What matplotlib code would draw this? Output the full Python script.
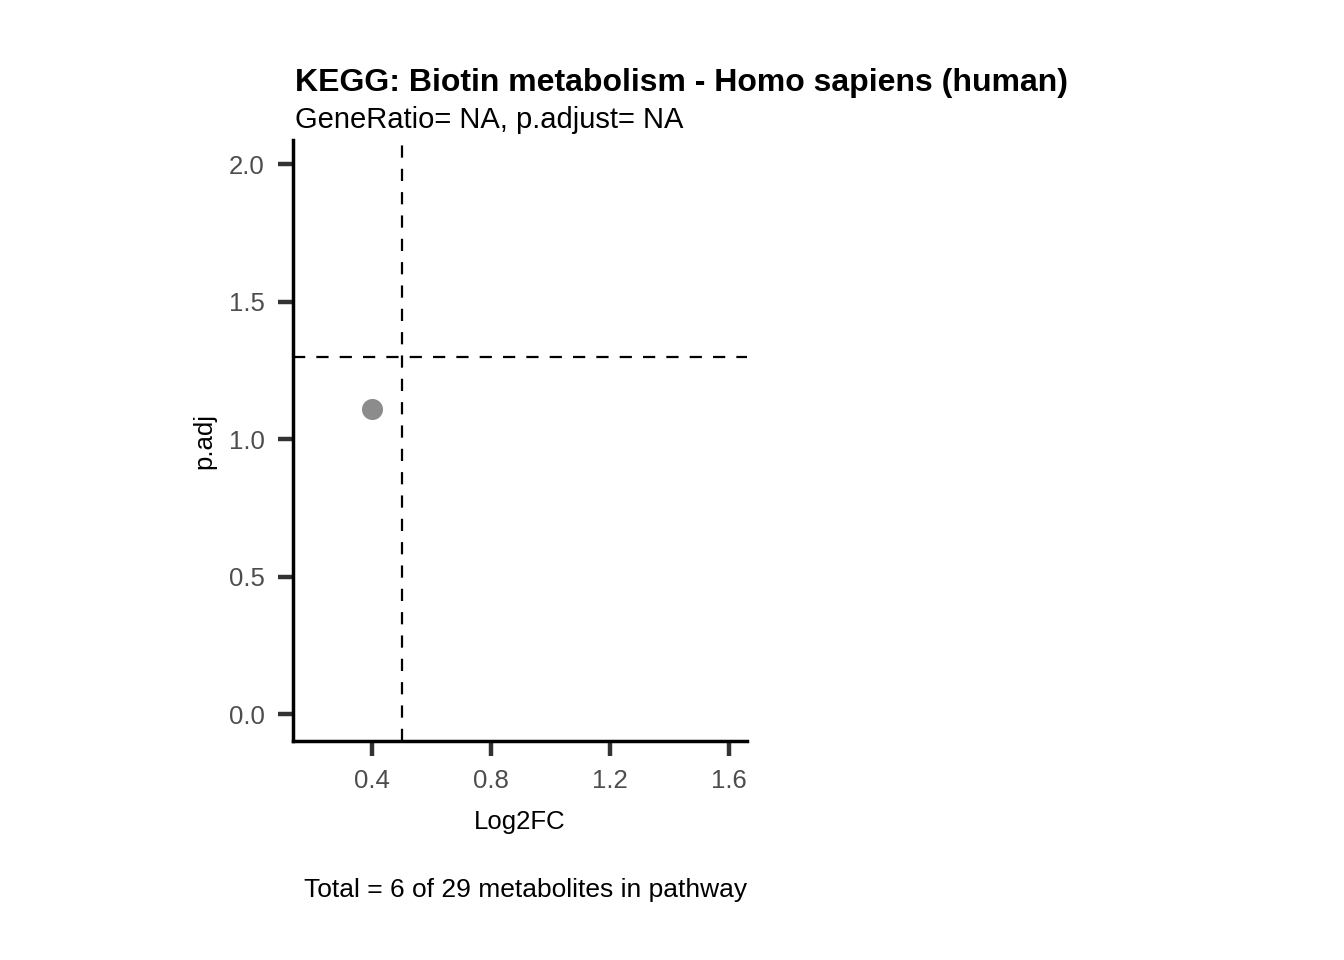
import matplotlib
matplotlib.use("Agg")
import matplotlib.pyplot as plt

# data
log2fc = [0.4]
padj = [1.11]
fc_cut = 0.5
p_cut = 1.3
x_ticks = [0.4, 0.8, 1.2, 1.6]
y_ticks = [0.0, 0.5, 1.0, 1.5, 2.0]

title = "KEGG: Biotin metabolism - Homo sapiens (human)"
subtitle = "GeneRatio= NA, p.adjust= NA"
caption = "Total = 6 of 29 metabolites in pathway"

plt.rcParams["font.family"] = ["Liberation Sans", "DejaVu Sans"]

fig = plt.figure(figsize=(13.44, 9.6), dpi=100)
ax = fig.add_axes([0.218, 0.228, 0.338, 0.626])

ax.scatter(log2fc, padj, s=230, color="#8c8c8c", zorder=3, linewidths=0)
ax.axvline(fc_cut, color="black", lw=1.6, ls=(0, (5.5, 5.0)))
ax.axhline(p_cut, color="black", lw=1.6, ls=(0, (5.5, 5.0)))

ax.set_xlim(0.133, 1.661)
ax.set_ylim(-0.098, 2.087)
ax.set_xticks(x_ticks)
ax.set_yticks(y_ticks)
ax.set_xticklabels([f"{v:.1f}" for v in x_ticks])
ax.set_yticklabels([f"{v:.1f}" for v in y_ticks])

for side in ["top", "right"]:
    ax.spines[side].set_visible(False)
for side in ["left", "bottom"]:
    ax.spines[side].set_linewidth(2.5)
    ax.spines[side].set_color("black")
ax.tick_params(axis="both", length=11, width=3.2, color="#333333",
               labelsize=18.5, labelcolor="#4d4d4d", pad=9.4)

ax.set_xlabel("Log2FC", fontsize=18.5)
ax.xaxis.set_label_coords(0.5, -0.115)
ax.set_ylabel("p.adj", fontsize=18.5, labelpad=9)

fig.text(0.2195, 0.905, title, fontsize=23, fontweight="bold", ha="left", va="baseline")
fig.text(0.2195, 0.867, subtitle, fontsize=21, ha="left", va="baseline")
fig.text(0.556, 0.0656, caption, fontsize=19, ha="right", va="baseline")

fig.savefig("out.png", dpi=100)
